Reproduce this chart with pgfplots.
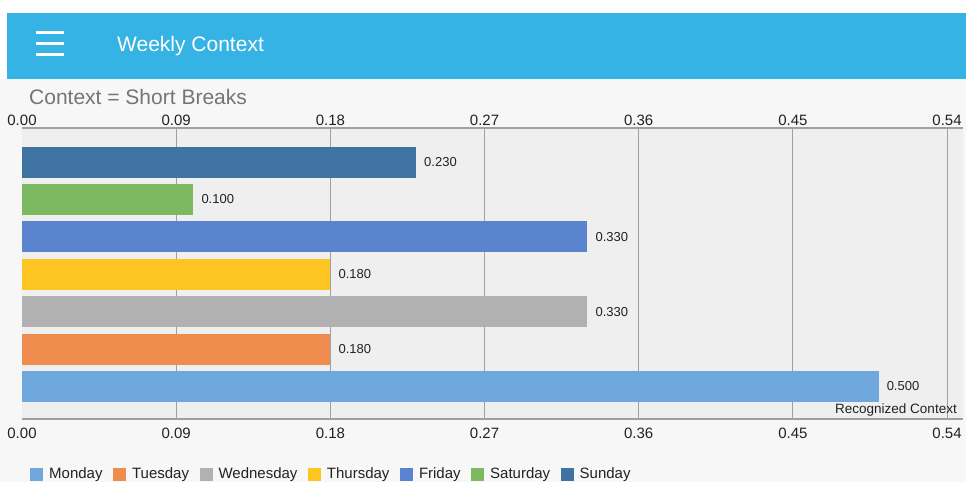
\documentclass[border=0pt]{standalone}
\usepackage{fontspec}
\setmainfont{Liberation Sans}
\usepackage{pgfplots}
\pgfplotsset{compat=1.18}
\definecolor{hdr}{HTML}{35B3E5}
\definecolor{pagebg}{HTML}{F7F7F7}
\definecolor{plotbg}{HTML}{EFEFEF}
\definecolor{gridc}{HTML}{A0A0A0}
\definecolor{cMon}{HTML}{6FA8DC}
\definecolor{cTue}{HTML}{EF8D4E}
\definecolor{cWed}{HTML}{B1B1B1}
\definecolor{cThu}{HTML}{FDC521}
\definecolor{cFri}{HTML}{5B84CF}
\definecolor{cSat}{HTML}{7DB961}
\definecolor{cSun}{HTML}{3F73A1}
\definecolor{txt}{HTML}{222222}
\definecolor{subt}{HTML}{757575}
\pgfplotsset{sq/.style={legend image code/.code={\fill[##1,draw=none] (0pt,-6.5pt) rectangle (13pt,6.5pt);}}}
\begin{document}
\begin{tikzpicture}[x=1pt,y=1pt]
\useasboundingbox (0,0) rectangle (966,482);
\fill[white] (0,0) rectangle (966,482);
\fill[pagebg] (0,0) rectangle (966,403);
\fill[hdr] (7,403) rectangle (966,469);
\foreach \yy in {449,438,427} \draw[white,line width=3pt] (36,\yy) -- (64,\yy);
\node[anchor=base west,inner sep=0,text=white,font=\fontsize{21}{25}\selectfont] at (117,430) {Weekly Context};
\node[anchor=base west,inner sep=0,text=subt,font=\fontsize{21}{25}\selectfont] at (29,377) {Context = Short Breaks};
\begin{axis}[
  at={(22pt,63pt)}, anchor=south west,
  width=941pt, height=291pt, scale only axis,
  xmin=0, xmax=0.5493, ymin=-0.87, ymax=6.91,
  xbar, bar width=31pt, bar shift=0pt,
  axis background/.style={fill=plotbg},
  separate axis lines,
  x axis line style={draw=gridc, line width=1.3pt},
  y axis line style={draw=none},
  xtick={0,0.09,0.18,0.27,0.36,0.45,0.54},
  xticklabels={0.00,0.09,0.18,0.27,0.36,0.45,0.54},
  /pgf/number format/assume math mode=true,
  xticklabel style={font=\fontsize{15}{18}\selectfont, text=txt, inner sep=0pt, yshift=-9pt},
  major tick length=0pt,
  ytick=\empty,
  extra x ticks={0.09,0.18,0.27,0.36,0.45,0.54},
  extra x tick labels={},
  extra x tick style={grid=major, major grid style={draw=gridc, line width=0.9pt}},
  point meta=x,
  nodes near coords={\pgfmathprintnumber[fixed,fixed zerofill,precision=3]{\pgfplotspointmeta}},
  nodes near coords align={horizontal},
  every node near coord/.style={anchor=west, inner sep=0pt, xshift=8pt, text=txt, font=\fontsize{13}{15}\selectfont},
  legend columns=7,
  legend style={at={(0.0085,-0.189)}, anchor=west, draw=none, fill=none, inner sep=0pt, font=\fontsize{15}{18}\selectfont, text=txt,
    /tikz/every odd column/.append style={column sep=4pt},
    /tikz/every even column/.append style={column sep=8.5pt}},
  clip=false,
]
\addplot[fill=cMon, draw=none, sq] coordinates {(0.50,0)};
\addlegendentry{Monday}
\addplot[fill=cTue, draw=none, sq] coordinates {(0.18,1)};
\addlegendentry{Tuesday}
\addplot[fill=cWed, draw=none, sq] coordinates {(0.33,2)};
\addlegendentry{Wednesday}
\addplot[fill=cThu, draw=none, sq] coordinates {(0.18,3)};
\addlegendentry{Thursday}
\addplot[fill=cFri, draw=none, sq] coordinates {(0.33,4)};
\addlegendentry{Friday}
\addplot[fill=cSat, draw=none, sq] coordinates {(0.10,5)};
\addlegendentry{Saturday}
\addplot[fill=cSun, draw=none, sq] coordinates {(0.23,6)};
\addlegendentry{Sunday}
\node[anchor=base east, inner sep=0pt, text=txt, font=\fontsize{13.5}{16}\selectfont] at (rel axis cs:0.9936,0.0206) {Recognized Context};
\end{axis}
\begin{axis}[
  at={(22pt,63pt)}, anchor=south west,
  width=941pt, height=291pt, scale only axis,
  xmin=0, xmax=0.5493, ymin=-0.87, ymax=6.91,
  axis line style={draw=none},
  xtick={0,0.09,0.18,0.27,0.36,0.45,0.54},
  xticklabels={0.00,0.09,0.18,0.27,0.36,0.45,0.54},
  xticklabel pos=upper,
  /pgf/number format/assume math mode=true,
  xticklabel style={font=\fontsize{15}{18}\selectfont, text=txt, inner sep=0pt, yshift=2pt},
  major tick length=0pt,
  ytick=\empty,
]
\end{axis}
\end{tikzpicture}
\end{document}
